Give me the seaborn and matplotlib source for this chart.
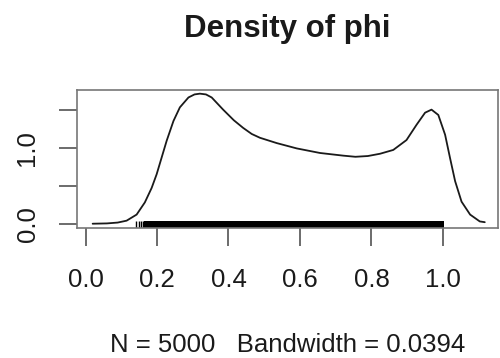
import numpy as np
import pandas as pd
import seaborn as sns
import matplotlib
matplotlib.use("Agg")
import matplotlib.pyplot as plt
from matplotlib.patches import Rectangle

# Density curve
phi_x = [0.02, 0.06, 0.09, 0.115, 0.143, 0.166, 0.185, 0.199, 0.213, 0.227,
         0.246, 0.264, 0.288, 0.305, 0.320, 0.337, 0.353, 0.385, 0.415,
         0.441, 0.465, 0.488, 0.535, 0.591, 0.656, 0.721, 0.755, 0.790,
         0.824, 0.861, 0.898, 0.926, 0.950, 0.968, 0.987, 1.006, 1.020,
         1.034, 1.052, 1.076, 1.103, 1.117]
phi_density = [0.0, 0.004, 0.015, 0.04, 0.12, 0.28, 0.47, 0.65, 0.87, 1.09,
               1.35, 1.53, 1.66, 1.70, 1.71, 1.70, 1.66, 1.50, 1.36,
               1.26, 1.18, 1.13, 1.06, 0.99, 0.93, 0.895, 0.88, 0.89,
               0.92, 0.97, 1.10, 1.30, 1.46, 1.50, 1.43, 1.17, 0.86,
               0.56, 0.29, 0.12, 0.03, 0.02]

# Rug: a few sparse ticks and a dense band of observations
rug_sparse = [0.14, 0.15, 0.155, 0.16]
rug_band = [0.165, 1.003]

x_ticks = [0.0, 0.2, 0.4, 0.6, 0.8, 1.0]
x_labels = ["0.0", "0.2", "0.4", "0.6", "0.8", "1.0"]
y_ticks = [0.0, 0.5, 1.0, 1.5]
y_labels = ["0.0", "", "1.0", ""]

title = "Density of phi"
xlabel = "N = 5000   Bandwidth = 0.0394"

sns.set_style("white")
plt.rcParams["font.family"] = ["Liberation Sans", "DejaVu Sans"]

fig = plt.figure(figsize=(5.0, 3.58), dpi=100)
ax = fig.add_axes([0.154, 0.363, 0.842, 0.386])

df = pd.DataFrame({"x": phi_x, "y": phi_density})
sns.lineplot(data=df, x="x", y="y", sort=False, color="#1a1a1a", lw=1.3, ax=ax)

sns.rugplot(x=rug_sparse, height=0.05, color="black", lw=1.0, ax=ax)
ax.add_patch(Rectangle((rug_band[0], 0.0), rug_band[1] - rug_band[0], 0.05,
                       transform=ax.get_xaxis_transform(), color="black", lw=0))

ax.set_xlim(-0.0238, 1.154)
ax.set_ylim(-0.057, 1.76)

ax.set_xticks(x_ticks)
ax.set_xticklabels(x_labels, fontsize=18.5)
ax.set_yticks(y_ticks)
ax.set_yticklabels(y_labels, fontsize=18.5, rotation=90, va="center")

ax.tick_params(axis="both", direction="out", length=13, width=1.1,
               color="#444444", labelcolor="#1a1a1a", pad=12,
               bottom=True, left=True)
ax.tick_params(axis="x", pad=15.5)
ax.tick_params(axis="y", pad=14)
for s in ax.spines.values():
    s.set_color("#777777")
    s.set_linewidth(1.2)

ax.set_xlabel(xlabel, fontsize=18.5, labelpad=30, color="#1a1a1a")
ax.set_ylabel("")
ax.set_title(title, fontsize=22.5, fontweight="bold", pad=38, color="#1a1a1a")

fig.savefig("out.png", dpi=100)
